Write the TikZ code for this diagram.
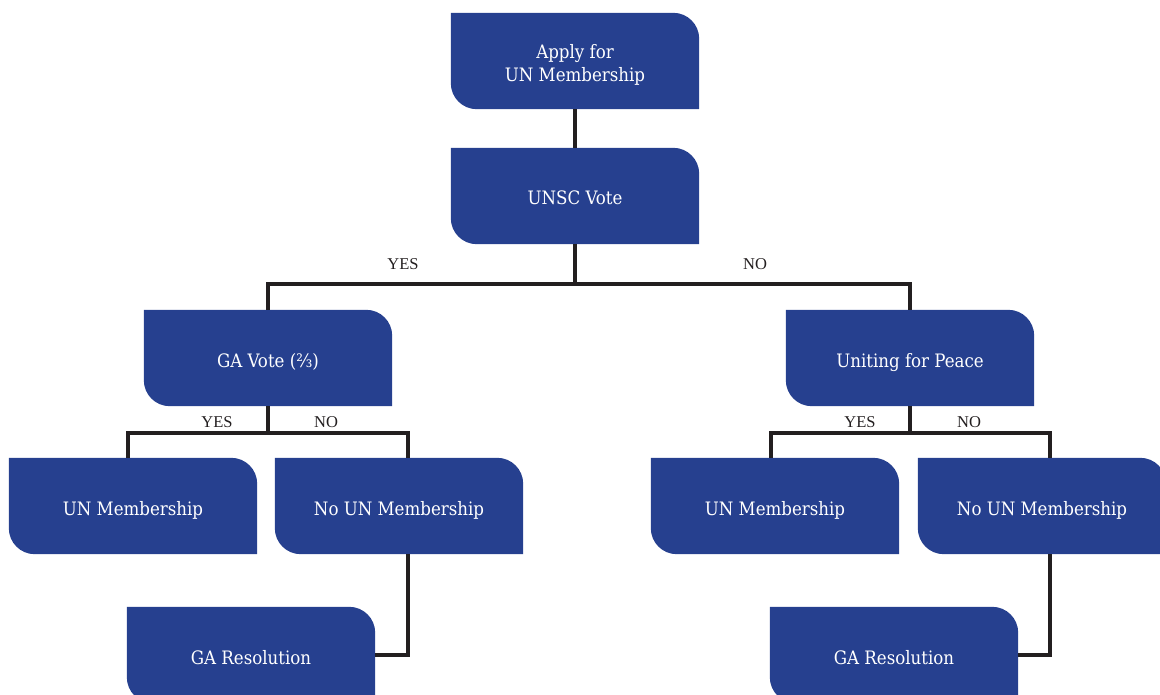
\documentclass[tikz,border=0pt]{standalone}
\usepackage{fontspec}
\setmainfont{Liberation Serif}
\newfontfamily\boxfont{DejaVu Serif Condensed}
\usetikzlibrary{backgrounds}
\definecolor{unblue}{HTML}{26408F}
\definecolor{lineblack}{HTML}{231F20}
\newcommand{\unbox}[5][]{%
  \node[boxtext,#1] (#2) at (#3,#4) {#5};
  \begin{pgfonlayer}{background}
    \fill[unblue] (#2.north west) -- ([xshift=-26pt]#2.north east)
      arc[start angle=90,end angle=0,radius=26pt] -- (#2.south east)
      -- ([xshift=26pt]#2.south west)
      arc[start angle=270,end angle=180,radius=26pt] -- cycle;
  \end{pgfonlayer}}
\begin{document}
\begin{tikzpicture}[x=1pt,y=-1pt,
  boxtext/.style={text=white, font=\boxfont\fontsize{18.5}{23}\selectfont, align=center,
    minimum width=248pt, minimum height=96pt, inner sep=0pt,
    text height=18pt, text depth=0pt},
  conn/.style={draw=lineblack, line width=3.5pt},
  lbl/.style={font=\fontsize{16.5}{18}\selectfont, text=lineblack, inner sep=0pt}]
\useasboundingbox (0,0) rectangle (1160,695);
% boxes
\unbox[text height={}, text depth={}]{apply}{575}{61}{\rule{0pt}{21pt}Apply for\\UN Membership}
\unbox{unsc}{575}{196}{UNSC Vote}
\unbox{gavote}{268}{358}{GA Vote (⅔)}
\unbox{unity}{910}{358}{Uniting for Peace}
\unbox{unmA}{133}{506}{UN Membership}
\unbox{nounmA}{399}{506}{No UN Membership}
\unbox{garA}{251}{655}{GA Resolution}
\unbox{unmB}{775}{506}{UN Membership}
\unbox{nounmB}{1042}{506}{No UN Membership}
\unbox{garB}{894}{655}{GA Resolution}
% labels
\node[lbl] (y1) at (403,264) {YES};
\node[lbl] (n1) at (755,264) {NO};
\node[lbl] (y2) at (217,422) {YES};
\node[lbl] (n2) at (326,422) {NO};
\node[lbl] (y3) at (860,422) {YES};
\node[lbl] (n3) at (969,422) {NO};
% connectors
\coordinate (ja) at (575,284);
\draw[conn] (apply.south) -- (unsc.north);
\draw[conn] (unsc.south) -- (ja);
\draw[conn] (gavote.north) |- (ja) -| (unity.north);
\coordinate (jb) at (268,433);
\coordinate (jbl) at (128,433);
\coordinate (jbr) at (408,433);
\draw[conn] (gavote.south) -- (jb);
\draw[conn] (unmA.north -| jbl) -- (jbl) -- (jbr) -- (nounmA.north -| jbr);
\draw[conn] (nounmA.south -| jbr) |- (garA.east);
\coordinate (jc) at (910,433);
\coordinate (jcl) at (771,433);
\coordinate (jcr) at (1050,433);
\draw[conn] (unity.south) -- (jc);
\draw[conn] (unmB.north -| jcl) -- (jcl) -- (jcr) -- (nounmB.north -| jcr);
\draw[conn] (nounmB.south -| jcr) |- (garB.east);
\end{tikzpicture}
\end{document}
